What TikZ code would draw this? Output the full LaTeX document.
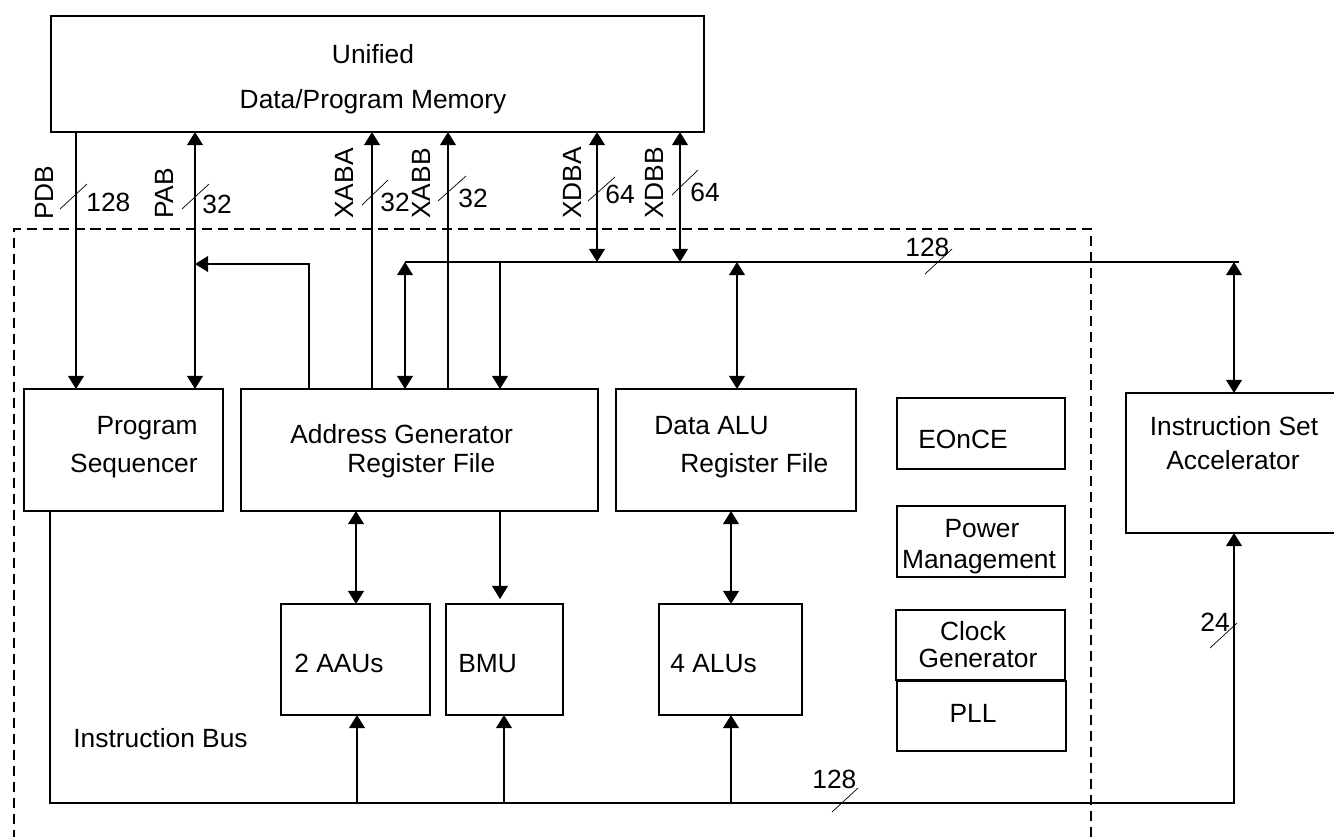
\documentclass[tikz,border=0pt]{standalone}
\usepackage{fontspec}
\setmainfont{Liberation Sans}
\usetikzlibrary{arrows.meta}
\newcommand\mybox[5]{\node[box, minimum width={(#4-#2)*0.02cm}, minimum height={(#5-#3)*0.02cm}] (#1) at ({(#2+#4)/2},{(#3+#5)/2}) {};}
\begin{document}
\begin{tikzpicture}[x=0.02cm,y=-0.02cm,
  box/.style={draw, line width=1pt, inner sep=0pt, outer sep=0pt},
  txt/.style={inner sep=0pt, font=\fontsize{15}{18}\selectfont},
  conn/.style={line width=1pt},
  arr/.style={line width=1pt, -{Triangle[length=7.5pt,width=9pt]}},
  darr/.style={line width=1pt, {Triangle[length=7.5pt,width=9pt]}-{Triangle[length=7.5pt,width=9pt]}},
  slash/.style={line width=0.4pt},
  border/.style={line width=0.75pt, dash pattern=on 5.7pt off 3.4pt}]
\useasboundingbox (0,0) rectangle (1334,836);
\clip (0,0) rectangle (1334,836);

% boxes
\mybox{mem}{51}{16}{704}{132}
\mybox{ps}{24}{389}{223}{511}
\mybox{ag}{241}{389}{598}{511}
\mybox{dalu}{616}{389}{856}{511}
\mybox{eonce}{897}{398}{1065}{469}
\mybox{pm}{897}{506}{1065}{577}
\mybox{clk}{896}{610}{1065}{680}
\mybox{pll}{897}{681}{1066}{751}
\mybox{isa}{1126}{393}{1345}{533}
\mybox{aau}{281}{604}{430}{715}
\mybox{bmu}{446}{604}{563}{715}
\mybox{alu}{659}{604}{802}{715}

% box texts
\node[txt, anchor=base] (t1) at (373,63) {Unified};
\node[txt, anchor=base] (t2) at (373,108) {Data/Program Memory};
\node[txt, anchor=base east] (t3) at (198,434) {Program};
\node[txt, anchor=base east] (t4) at (198,472) {Sequencer};
\node[txt, anchor=base west] (t5) at (290,443) {Address Generator};
\node[txt, anchor=base west] (t6) at (347,472) {Register File};
\node[txt, anchor=base west] (t7) at (654,434) {Data ALU};
\node[txt, anchor=base west] (t8) at (680,472) {Register File};
\node[txt, anchor=base west] (t9) at (918,448) {EOnCE};
\node[txt, anchor=base] (t10) at (982,537) {Power};
\node[txt, anchor=base] (t11) at (979,568) {Management};
\node[txt, anchor=base] (t12) at (973,640) {Clock};
\node[txt, anchor=base] (t13) at (978,667) {Generator};
\node[txt, anchor=base] (t14) at (973,722) {PLL};
\node[txt, anchor=base] (t15) at (1234,435) {Instruction Set};
\node[txt, anchor=base] (t16) at (1233,469) {Accelerator};
\node[txt, anchor=base west] (t17) at (294,672) {2 AAUs};
\node[txt, anchor=base west] (t18) at (458,672) {BMU};
\node[txt, anchor=base west] (t19) at (670,672) {4 ALUs};
\node[txt, anchor=base west] (t20) at (73,747) {Instruction Bus};

% rotated bus names
\node[txt, rotate=90, anchor=base west] (n1) at (53,220) {PDB};
\node[txt, rotate=90, anchor=base west] (n2) at (173,219) {PAB};
\node[txt, rotate=90, anchor=base west] (n3) at (353,219) {XABA};
\node[txt, rotate=90, anchor=base west] (n4) at (430,219) {XABB};
\node[txt, rotate=90, anchor=base west] (n5) at (581,219) {XDBA};
\node[txt, rotate=90, anchor=base west] (n6) at (663,219) {XDBB};

% widths
\node[txt, anchor=base west] (w1) at (86,211) {128};
\node[txt, anchor=base west] (w2) at (202,213) {32};
\node[txt, anchor=base west] (w3) at (380,211) {32};
\node[txt, anchor=base west] (w4) at (458,207) {32};
\node[txt, anchor=base west] (w5) at (605,203) {64};
\node[txt, anchor=base west] (w6) at (690,201) {64};
\node[txt, anchor=base west] (w7) at (905,256) {128};
\node[txt, anchor=base west] (w8) at (812,788) {128};
\node[txt, anchor=base west] (w9) at (1200,631) {24};

% slashes
\draw[slash] (60,209) -- (87,184);
\draw[slash] (182,209) -- (209,184);
\draw[slash] (362,205) -- (388,180);
\draw[slash] (438,201) -- (466,176);
\draw[slash] (588,201) -- (615,177);
\draw[slash] (672,195) -- (698,170);
\draw[slash] (925,274) -- (952,249);
\draw[slash] (832,812) -- (858,788);
\draw[slash] (1210,648) -- (1237,623);

% dashed core boundary
\draw[border] (14,840) -- (14,229) -- (1091,229) -- (1091,840);

% memory buses
\draw[arr] (mem.south -| 76,0) -- (ps.north -| 76,0);
\draw[darr] (mem.south -| 195,0) -- (ps.north -| 195,0);
\coordinate (pabj) at (195,264);
\draw[arr] (ag.north -| 309,0) |- (pabj);
\draw[arr] (ag.north -| 372,0) -- (mem.south -| 372,0);
\draw[arr] (ag.north -| 448,0) -- (mem.south -| 448,0);

% data bus
\coordinate (busL) at (405,262);
\coordinate (busR) at (1239,262);
\draw[conn] (busL) -- (busR);
\draw[darr] (mem.south -| 597,0) -- (busL -| 597,0);
\draw[darr] (mem.south -| 680,0) -- (busL -| 680,0);
\draw[darr] (busL) -- (ag.north -| busL);
\draw[arr] (busL -| 500,0) -- (ag.north -| 500,0);
\draw[darr] (busL -| 737,0) -- (dalu.north -| 737,0);
\draw[darr] (busL -| 1234,0) -- (isa.north -| 1234,0);

% internal links
\draw[darr] (ag.south -| 356,0) -- (aau.north -| 356,0);
\draw[arr, shorten >=0.1cm] (ag.south -| 500,0) -- (bmu.north -| 500,0);
\draw[darr] (dalu.south -| 731,0) -- (alu.north -| 731,0);

% instruction bus
\coordinate (ibL) at (50,803);
\coordinate (ibR) at (1234,803);
\draw[arr] (ps.south -| ibL) -- (ibL) -- (ibR) -- (isa.south -| ibR);
\draw[arr] (ibL -| 357,0) -- (aau.south -| 357,0);
\draw[arr] (ibL -| 504,0) -- (bmu.south -| 504,0);
\draw[arr] (ibL -| 731,0) -- (alu.south -| 731,0);
\end{tikzpicture}
\end{document}
